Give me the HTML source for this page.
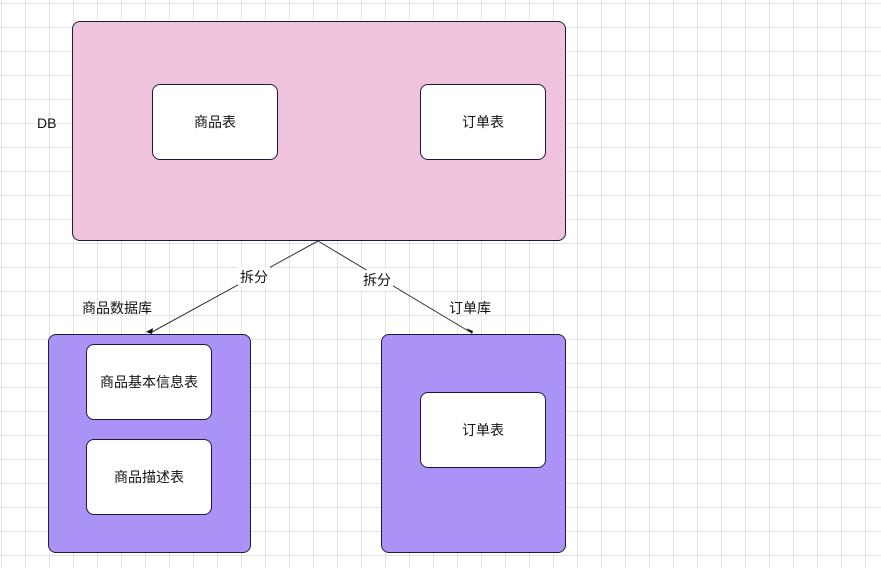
<!DOCTYPE html>
<html><head><meta charset="utf-8"><style>
body{margin:0;width:881px;height:568px;overflow:hidden;background:#fff;
background-image:linear-gradient(#e3e3e3 1px,transparent 1px),linear-gradient(90deg,#e3e3e3 1px,transparent 1px);
background-size:24px 24px;background-position:1px 3px;
font-family:"Liberation Sans","Noto Sans CJK SC",sans-serif;font-size:14px;color:#111;position:relative}
.b{position:absolute;box-sizing:border-box;border:1px solid #1f1a3d;border-radius:8px;display:flex;align-items:center;justify-content:center}
.w{background:#fff}
.t{position:absolute;white-space:nowrap}
</style></head><body>
<div class="b" style="left:72px;top:21px;width:494px;height:220px;background:#f0c3dc"></div>
<div class="b w" style="left:152px;top:84px;width:126px;height:76px">商品表</div>
<div class="b w" style="left:420px;top:84px;width:126px;height:76px">订单表</div>
<div class="t" style="left:37px;top:115px">DB</div>
<div class="b" style="left:48px;top:334px;width:203px;height:219px;background:#ab92f6"></div>
<div class="b w" style="left:86px;top:344px;width:126px;height:76px">商品基本信息表</div>
<div class="b w" style="left:86px;top:439px;width:126px;height:76px">商品描述表</div>
<div class="b" style="left:381px;top:334px;width:185px;height:219px;background:#ab92f6"></div>
<div class="b w" style="left:420px;top:392px;width:126px;height:76px">订单表</div>
<svg style="position:absolute;left:0;top:0" width="881" height="568">
<line x1="318" y1="241" x2="152" y2="332" stroke="#333" stroke-width="1"/>
<line x1="318" y1="241" x2="470" y2="332" stroke="#333" stroke-width="1"/>
<polygon points="152,334 146,332 153,328" fill="#111"/>
<polygon points="472,334 466,328 473,331" fill="#111"/>
</svg>
<div class="t" style="left:238px;top:267px;background:#fff;padding:0 2px">拆分</div>
<div class="t" style="left:361px;top:270px;background:#fff;padding:0 2px">拆分</div>
<div class="t" style="left:82px;top:298px">商品数据库</div>
<div class="t" style="left:449px;top:298px">订单库</div>
</body></html>
